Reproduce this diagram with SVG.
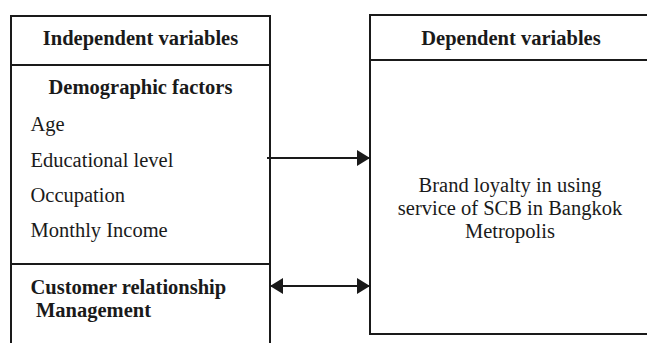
<svg xmlns="http://www.w3.org/2000/svg" width="647" height="343" viewBox="0 0 647 343">
<style>
.ln{stroke:#1a1a1a;stroke-width:2;fill:none}
text{font-family:"Liberation Serif","Times New Roman",serif;font-size:20.5px;fill:#1a1a1a}
.b{font-weight:bold}
.c{text-anchor:middle}
</style>
<defs>
<marker id="ah" viewBox="0 0 13 16" refX="13" refY="8" markerWidth="13" markerHeight="16" markerUnits="userSpaceOnUse" orient="auto-start-reverse">
<path d="M0,0 L13,8 L0,16 Z" fill="#1a1a1a"/>
</marker>
</defs>
<rect width="647" height="343" fill="#fff"/>
<g id="independent">
<path class="ln" d="M11,343 V16 H270 V343"/>
<path class="ln" d="M11,65 H270"/>
<path class="ln" d="M11,264 H270"/>
<text class="b c" x="140.5" y="45">Independent variables</text>
<text class="b c" x="140.5" y="94">Demographic factors</text>
<text x="30.5" y="131">Age</text>
<text x="30.5" y="166.5">Educational level</text>
<text x="30.5" y="202">Occupation</text>
<text x="30.5" y="237">Monthly Income</text>
<text class="b" x="30.5" y="294">Customer relationship</text>
<text class="b" x="36" y="317">Management</text>
</g>
<g id="dependent">
<path class="ln" d="M652,15 H370 V334 H652"/>
<path class="ln" d="M370,60 H652"/>
<text class="b c" x="511" y="45">Dependent variables</text>
<text class="c" x="510" y="192">Brand loyalty in using</text>
<text class="c" x="510" y="215">service of SCB in Bangkok</text>
<text class="c" x="510" y="238">Metropolis</text>
</g>
<g id="connectors">
<line class="ln" x1="267" y1="158" x2="370" y2="158" marker-end="url(#ah)"/>
<line class="ln" x1="270" y1="286" x2="370" y2="286" marker-start="url(#ah)" marker-end="url(#ah)"/>
</g>
</svg>
